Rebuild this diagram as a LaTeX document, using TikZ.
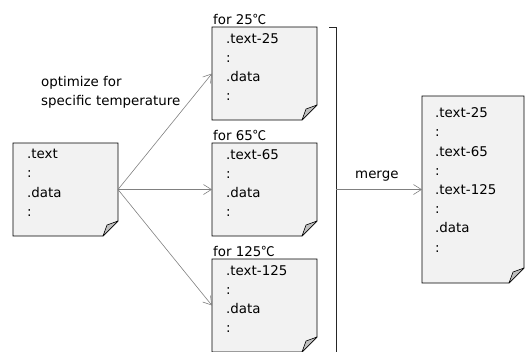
\documentclass[tikz,border=0pt]{standalone}
\usepackage{fontspec}
\setmainfont{DejaVu Sans}
\newfontfamily\cjk{Noto Sans CJK JP}
\usetikzlibrary{arrows.meta}
\definecolor{docfill}{HTML}{F2F2F2}
\definecolor{foldfill}{HTML}{C0C0C0}
\definecolor{linegray}{HTML}{808080}
\tikzset{
  doc/.style={draw=none, inner sep=0pt, outer sep=0pt},
  doctext/.style={anchor=north west, inner sep=0pt, align=left, font=\fontsize{13.4bp}{19.2bp}\selectfont},
  lbl/.style={anchor=base west, inner sep=0pt, font=\fontsize{13.4bp}{19bp}\selectfont},
  conn/.style={draw=linegray, line width=0.6bp, -{Straight Barb[length=8bp,width=10bp]}},
  brk/.style={draw=black!85, line width=0.8bp},
}
\newcommand\docshape[1]{%
  \path[fill=docfill, draw=black, line width=0.8bp] (#1.north west) -- (#1.north east)
     -- ([yshift=15bp]#1.south east) -- ([xshift=-15bp]#1.south east) -- (#1.south west) -- cycle;
  \path[fill=foldfill, draw=black, line width=0.6bp, line join=round] ([yshift=15bp]#1.south east)
     -- ([xshift=-11bp,yshift=11bp]#1.south east) -- ([xshift=-15bp]#1.south east) -- cycle;
}
\begin{document}
\begin{tikzpicture}[x=1bp,y=-1bp]
\useasboundingbox (0,0) rectangle (525,351);
\clip (0,0) rectangle (525,351);
% document boxes
\node[doc, minimum width=105bp, minimum height=93bp] (src) at (65.5,189.5) {};
\node[doc, minimum width=105bp, minimum height=93bp] (b25) at (264.5,73.5) {};
\node[doc, minimum width=105bp, minimum height=93bp] (b65) at (264.5,189.5) {};
\node[doc, minimum width=105bp, minimum height=93bp] (b125) at (264.5,305.5) {};
\node[doc, minimum width=102bp, minimum height=187bp] (mrg) at (473,189.5) {};
\docshape{src}
\docshape{b25}
\docshape{b65}
\docshape{b125}
\docshape{mrg}
% texts
\node[doctext] (srcT) at (27,149) {.text\\:\\.data\\:};
\node[doctext] (b25T) at (226,33) {.text-25\\:\\.data\\:};
\node[doctext] (b65T) at (226,149) {.text-65\\:\\.data\\:};
\node[doctext] (b125T) at (226,265) {.text-125\\:\\.data\\:};
\node[doctext] (mrgT) at (435,107.5) {.text-25\\:\\.text-65\\:\\.text-125\\:\\.data\\:};
% labels
\node[lbl] (l25) at (213,24.5) {for 25{\cjk ℃}};
\node[lbl] (l65) at (213,140.5) {for 65{\cjk ℃}};
\node[lbl] (l125) at (213,256.5) {for 125{\cjk ℃}};
\node[doctext] (opt) at (41,76) {optimize for\\specific temperature};
\node[lbl] (mlab) at (355,178) {merge};
% connectors
\draw[conn] (src.east) -- (b25.west);
\draw[conn] (src.east) -- (b65.west);
\draw[conn] (src.east) -- (b125.west);
% bracket
\coordinate (bt0) at (329,27);
\coordinate (bt1) at (336,27);
\coordinate (bb) at (336,360);
\coordinate (mg) at (336,189.5);
\draw[brk] (bt0) -- (bt1) -- (bb);
\draw[conn] (mg) -- (mrg.west);
\end{tikzpicture}
\end{document}
